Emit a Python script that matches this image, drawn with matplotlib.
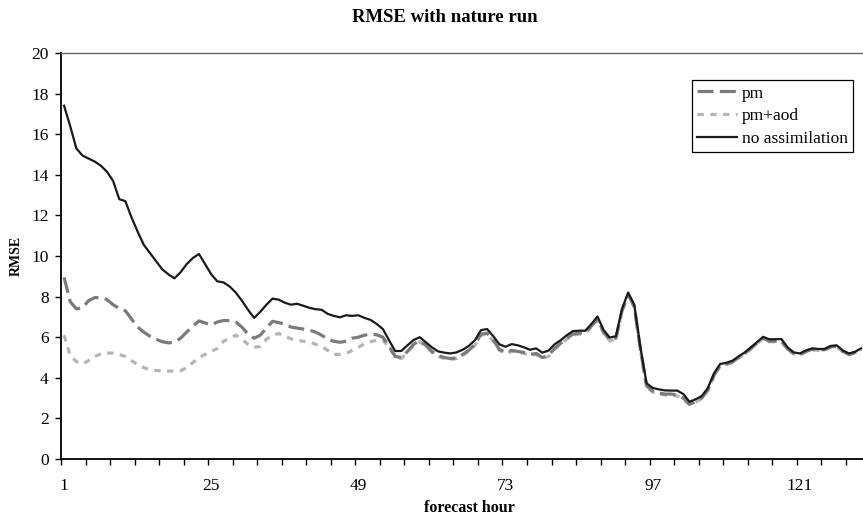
import matplotlib
matplotlib.use('Agg')
import matplotlib.pyplot as plt
from matplotlib.ticker import FixedLocator

plt.rcParams['font.family'] = ['Liberation Serif', 'DejaVu Serif']

# forecast hours 1..131
horas = list(range(1, 132))

sem_assimilacao = [
    17.4, 16.4, 15.3, 14.95, 14.8, 14.65, 14.45, 14.15, 13.7, 12.8,
    12.7, 11.9, 11.2, 10.55, 10.15, 9.75, 9.35, 9.1, 8.9, 9.2,
    9.6, 9.9, 10.1, 9.6, 9.1, 8.75, 8.7, 8.5, 8.2, 7.8,
    7.35, 6.95, 7.25, 7.6, 7.9, 7.85, 7.7, 7.6, 7.65, 7.55,
    7.45, 7.38, 7.35, 7.15, 7.05, 6.98, 7.08, 7.05, 7.08, 6.95,
    6.85, 6.65, 6.4, 5.85, 5.32, 5.32, 5.6, 5.86, 6.0, 5.75,
    5.5, 5.3, 5.24, 5.2, 5.25, 5.38, 5.57, 5.85, 6.35, 6.4,
    6.05, 5.65, 5.53, 5.66, 5.6, 5.5, 5.38, 5.45, 5.24, 5.34,
    5.65, 5.85, 6.1, 6.3, 6.32, 6.32, 6.65, 7.02, 6.35, 5.98,
    6.05, 7.4, 8.2, 7.6, 5.5, 3.73, 3.5, 3.43, 3.38, 3.37,
    3.37, 3.2, 2.82, 2.94, 3.1, 3.5, 4.22, 4.68, 4.74, 4.84,
    5.05, 5.25, 5.5, 5.75, 6.02, 5.9, 5.9, 5.91, 5.5, 5.25,
    5.2, 5.35, 5.45, 5.42, 5.42, 5.57, 5.6, 5.35, 5.2, 5.28,
    5.45,
]

pm = [
    8.95, 7.75, 7.4, 7.45, 7.8, 7.95, 7.95, 7.85, 7.6, 7.42,
    7.3, 6.9, 6.5, 6.25, 6.05, 5.9, 5.78, 5.72, 5.75, 5.95,
    6.25, 6.55, 6.8, 6.7, 6.6, 6.75, 6.82, 6.82, 6.75, 6.5,
    6.15, 5.95, 6.1, 6.45, 6.78, 6.72, 6.65, 6.5, 6.45, 6.4,
    6.35, 6.25, 6.1, 5.9, 5.8, 5.75, 5.8, 5.95, 6.0, 6.1,
    6.15, 6.12, 6.0, 5.55, 5.05, 5.0, 5.3, 5.65, 5.83, 5.6,
    5.3, 5.1, 5.0, 4.95, 4.98, 5.15, 5.35, 5.65, 6.15, 6.2,
    5.85, 5.4, 5.25, 5.35, 5.3, 5.25, 5.15, 5.2, 5.0, 5.1,
    5.45, 5.7, 5.95, 6.15, 6.2, 6.22, 6.55, 6.9, 6.25, 5.85,
    5.95, 7.3, 8.1, 7.5, 5.4, 3.6, 3.35, 3.25, 3.2, 3.2,
    3.15, 3.0, 2.7, 2.82, 3.0, 3.4, 4.12, 4.6, 4.68, 4.78,
    5.0, 5.2, 5.45, 5.7, 5.95, 5.8, 5.8, 5.8, 5.42, 5.2,
    5.15, 5.3, 5.4, 5.38, 5.38, 5.52, 5.55, 5.3, 5.15, 5.25,
    5.42,
]

pm_aod = [
    6.1, 5.1, 4.8, 4.68, 4.85, 5.05, 5.18, 5.22, 5.22, 5.15,
    5.05, 4.85, 4.65, 4.5, 4.4, 4.36, 4.34, 4.33, 4.33, 4.35,
    4.5, 4.75, 5.0, 5.15, 5.3, 5.45, 5.8, 5.95, 6.1, 5.9,
    5.65, 5.5, 5.55, 5.9, 6.1, 6.18, 6.05, 5.92, 5.85, 5.8,
    5.78, 5.65, 5.55, 5.35, 5.15, 5.15, 5.2, 5.35, 5.5, 5.68,
    5.78, 5.85, 5.85, 5.5, 5.05, 4.95, 5.25, 5.6, 5.78, 5.55,
    5.25, 5.05, 4.95, 4.9, 4.95, 5.1, 5.3, 5.6, 6.1, 6.15,
    5.8, 5.35, 5.2, 5.3, 5.28, 5.2, 5.1, 5.15, 4.95, 5.05,
    5.4, 5.65, 5.9, 6.1, 6.15, 6.2, 6.5, 6.85, 6.2, 5.82,
    5.9, 7.3, 8.1, 7.5, 5.35, 3.55, 3.3, 3.2, 3.15, 3.15,
    3.1, 2.95, 2.68, 2.8, 2.98, 3.38, 4.1, 4.58, 4.65, 4.75,
    4.98, 5.18, 5.42, 5.68, 5.92, 5.78, 5.78, 5.78, 5.4, 5.18,
    5.13, 5.28, 5.38, 5.35, 5.35, 5.5, 5.52, 5.28, 5.13, 5.22,
    5.4,
]

rotulos_x = [1, 25, 49, 73, 97, 121]
ticks_y = list(range(0, 21, 2))

COR_PM = '#7b7b7b'
COR_AOD = '#b5b5b5'
COR_SEM = '#1a1a1a'

fig = plt.figure(figsize=(8.63, 5.24), dpi=100)
ax = fig.add_axes([61 / 863, 65 / 524, 802 / 863, 406 / 524])

ax.plot(horas, pm, color=COR_PM, linewidth=2.3, dashes=(5, 2),
        dash_capstyle='butt', label='pm', zorder=3)
ax.plot(horas, pm_aod, color=COR_AOD, linewidth=2.3, dashes=(2, 2),
        dash_capstyle='butt', label='pm+aod', zorder=2)
ax.plot(horas, sem_assimilacao, color=COR_SEM, linewidth=1.6,
        label='no assimilation', zorder=4)

ax.set_xlim(0.5, 131.3)
ax.set_ylim(0, 20)

# labels every 24 h, tick marks every 4 h on category boundaries
ax.xaxis.set_major_locator(FixedLocator(rotulos_x))
ax.set_xticklabels([str(r) for r in rotulos_x])
ax.xaxis.set_minor_locator(FixedLocator([0.5 + 4 * k for k in range(33)]))
ax.tick_params(axis='x', which='major', length=0, pad=14, labelsize=12.5)
ax.tick_params(axis='x', which='minor', length=4.5, width=1, direction='out')
ax.set_yticks(ticks_y)
ax.tick_params(axis='y', length=4, width=1, direction='out', pad=5, labelsize=12.5)

for lado in ('left', 'bottom'):
    ax.spines[lado].set_linewidth(1.3)
    ax.spines[lado].set_color('black')
ax.spines['top'].set_color('#666666')
ax.spines['top'].set_linewidth(1.0)
ax.spines['right'].set_visible(False)

fig.text(445 / 863, 1 - 17 / 524, 'RMSE with nature run', ha='center', va='center',
         fontsize=13.5, fontweight='bold')
fig.text(469 / 863, 1 - 508 / 524, 'forecast hour', ha='center', va='center',
         fontsize=11.5, fontweight='bold')
fig.text(16 / 863, 1 - 256 / 524, 'RMSE', ha='center', va='center',
         rotation=90, fontsize=10, fontweight='bold')

leg = ax.legend(loc='upper right', bbox_to_anchor=(0.9875, 0.933), fontsize=12.5,
                frameon=True, fancybox=False, edgecolor='black', framealpha=1,
                borderpad=0.3, labelspacing=0.38, handlelength=2.3,
                handletextpad=0.25, borderaxespad=0)
leg.get_frame().set_linewidth(0.9)

fig.savefig('out.png', dpi=100, facecolor='white')
